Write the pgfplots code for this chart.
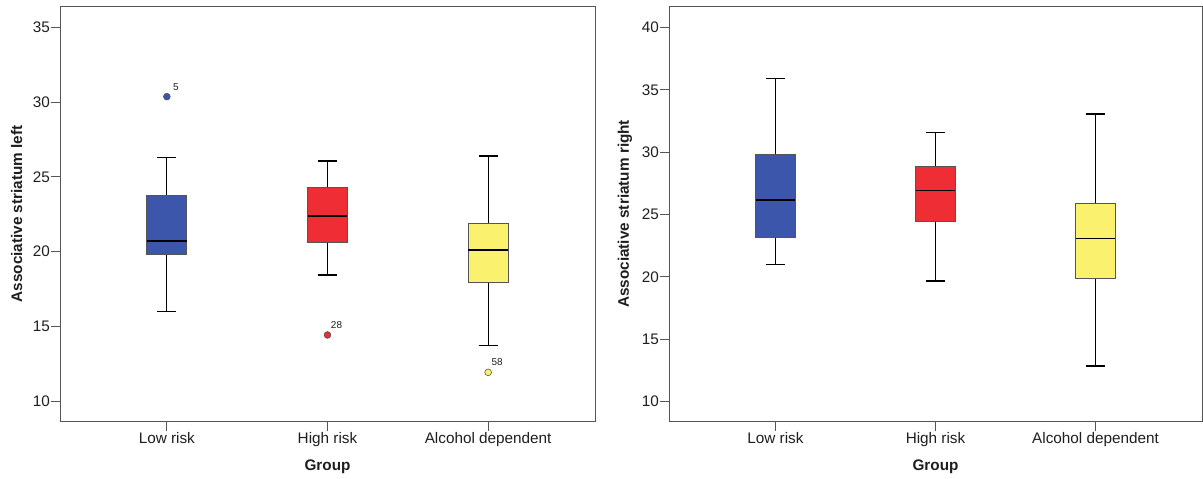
\documentclass[border=0pt]{standalone}
\usepackage{pgfplots}
\pgfplotsset{compat=1.18}
\usepackage{fontspec}
\setmainfont{Liberation Sans}
\definecolor{bxblue}{RGB}{59,86,170}
\definecolor{bxred}{RGB}{238,46,52}
\definecolor{bxyellow}{RGB}{250,242,110}
\definecolor{frame}{RGB}{85,85,85}
\definecolor{txt}{RGB}{30,30,30}
\pgfplotsset{mystyle/.style={
  scale only axis, height=415.7pt,
  xmin=-0.665, xmax=2.665,
  xtick={0,1,2}, xticklabels={Low risk,High risk,Alcohol dependent},
  tick align=outside, major tick length=9pt,
  xtick pos=bottom, ytick pos=left,
  axis line style={frame, line width=0.9pt},
  tick style={frame, line width=0.9pt},
  ticklabel style={font=\fontsize{15.3}{17}\selectfont, text=txt},
  yticklabel style={inner sep=1pt},
  xticklabel style={inner sep=2pt},
  label style={font=\bfseries\fontsize{15.3}{17}\selectfont, text=txt},
  xlabel={Group},
  xlabel style={at={(axis description cs:0.5,-0.108)}, anchor=center},
  /pgf/number format/assume math mode=true,
  unbounded coords=jump,
  clip=false,
}}
\pgfplotsset{
  whisk/.style={black, line width=1.2pt, mark=none},
  box/.style={fill=#1, draw=frame, line width=0.9pt, mark=none},
  med/.style={black, line width=1.6pt, mark=none},
  outl/.style={only marks, mark=*, mark size=3.4pt,
  mark options={fill=#1, draw=frame, line width=0.6pt},
  nodes near coords, point meta=explicit symbolic,
  every node near coord/.append style={anchor=center, xshift=9pt, yshift=10pt,
    font=\fontsize{10}{11}\selectfont, text=txt}}}
\begin{document}
\begin{tikzpicture}
\useasboundingbox (0,0) rectangle (1203pt,479pt);
\begin{axis}[mystyle, at={(60pt,57.3pt)}, anchor=south west, width=535pt,
  ymin=8.62, ymax=36.42, ytick={10,15,...,35},
  ylabel={Associative striatum left},
  ylabel style={at={(axis description cs:-0.081,0.5)}, anchor=center}]
% Low risk: 15.98 19.82 20.70 23.78 26.28
\addplot[whisk] coordinates {(0,15.98) (0,26.28)};
\addplot[whisk] coordinates {(-0.06,15.98) (0.06,15.98) (0,nan) (-0.06,26.28) (0.06,26.28)};
\addplot[box=bxblue] coordinates {(-0.124,19.82) (0.124,19.82) (0.124,23.78) (-0.124,23.78)} -- cycle;
\addplot[med] coordinates {(-0.124,20.70) (0.124,20.70)};
% High risk: 18.43 20.60 22.38 24.27 26.06
\addplot[whisk] coordinates {(1,18.43) (1,26.06)};
\addplot[whisk] coordinates {(0.94,18.43) (1.06,18.43) (1,nan) (0.94,26.06) (1.06,26.06)};
\addplot[box=bxred] coordinates {(0.876,20.60) (1.124,20.60) (1.124,24.27) (0.876,24.27)} -- cycle;
\addplot[med] coordinates {(0.876,22.38) (1.124,22.38)};
% Alcohol dependent: 13.73 17.96 20.10 21.89 26.39
\addplot[whisk] coordinates {(2,13.73) (2,26.39)};
\addplot[whisk] coordinates {(1.94,13.73) (2.06,13.73) (2,nan) (1.94,26.39) (2.06,26.39)};
\addplot[box=bxyellow] coordinates {(1.876,17.96) (2.124,17.96) (2.124,21.89) (1.876,21.89)} -- cycle;
\addplot[med] coordinates {(1.876,20.10) (2.124,20.10)};
% outliers
\addplot[outl=bxblue] coordinates {(0,30.36) [5]};
\addplot[outl=bxred] coordinates {(1,14.42) [28]};
\addplot[outl=bxyellow] coordinates {(2,11.92) [58]};
\end{axis}
\begin{axis}[mystyle, at={(669pt,57.3pt)}, anchor=south west, width=533pt,
  ymin=8.4, ymax=41.71, ytick={10,15,...,40},
  ylabel={Associative striatum right},
  ylabel style={at={(axis description cs:-0.0826,0.5)}, anchor=center}]
% Low risk: 20.98 23.20 26.16 29.80 35.91
\addplot[whisk] coordinates {(0,20.98) (0,35.91)};
\addplot[whisk] coordinates {(-0.06,20.98) (0.06,20.98) (0,nan) (-0.06,35.91) (0.06,35.91)};
\addplot[box=bxblue] coordinates {(-0.124,23.20) (0.124,23.20) (0.124,29.80) (-0.124,29.80)} -- cycle;
\addplot[med] coordinates {(-0.124,26.16) (0.124,26.16)};
% High risk: 19.67 24.45 26.94 28.89 31.55
\addplot[whisk] coordinates {(1,19.67) (1,31.55)};
\addplot[whisk] coordinates {(0.94,19.67) (1.06,19.67) (1,nan) (0.94,31.55) (1.06,31.55)};
\addplot[box=bxred] coordinates {(0.876,24.45) (1.124,24.45) (1.124,28.89) (0.876,28.89)} -- cycle;
\addplot[med] coordinates {(0.876,26.94) (1.124,26.94)};
% Alcohol dependent: 12.86 19.86 23.06 25.87 33.05
\addplot[whisk, line width=0.9pt] coordinates {(2,12.86) (2,33.05)};
\addplot[whisk] coordinates {(1.94,12.86) (2.06,12.86) (2,nan) (1.94,33.05) (2.06,33.05)};
\addplot[box=bxyellow] coordinates {(1.876,19.86) (2.124,19.86) (2.124,25.87) (1.876,25.87)} -- cycle;
\addplot[med, line width=1.3pt] coordinates {(1.876,23.06) (2.124,23.06)};
\end{axis}
\end{tikzpicture}
\end{document}
